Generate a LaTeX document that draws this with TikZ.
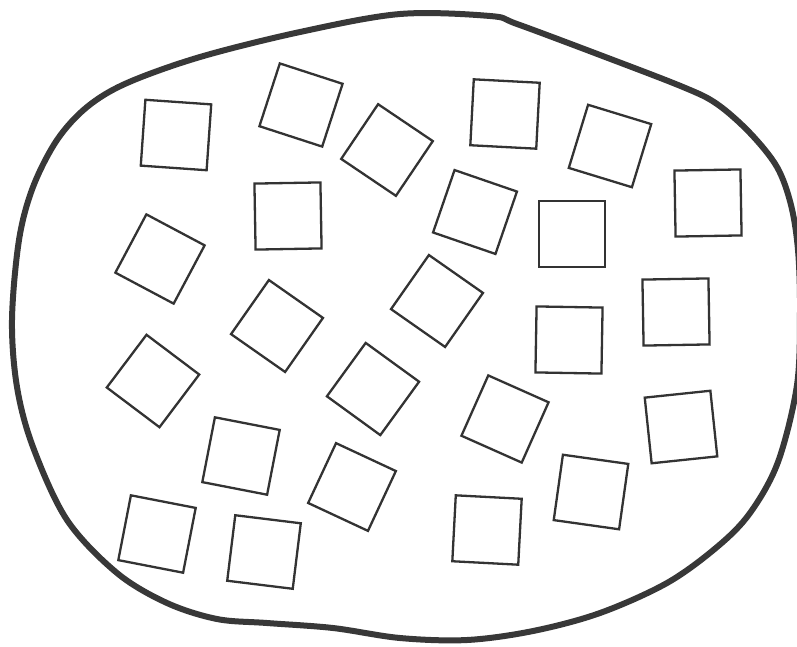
\documentclass[tikz,border=0pt]{standalone}
\usetikzlibrary{positioning}

\tikzset{
  tile/.style={draw=black!80, line width=2.3pt, minimum size=66pt, inner sep=0pt, outer sep=0pt},
  blob/.style={draw=black!78, line width=6pt}
}

\begin{document}
\begin{tikzpicture}[x=1pt, y=-1pt]
  \useasboundingbox (0,0) rectangle (797,646);
  \clip (0,0) rectangle (797,646);

  % Closed outline
  \draw[blob] plot[smooth cycle, tension=0.55] coordinates {
    (400,14) (490,16) (517,24) (600,55) (683,87) (717,104) (750,133)
    (777,167) (791,205) (798,250) (800,310) (797,385) (778,462) (750,513)
    (717,547) (667,583) (600,613) (533,631) (467,640) (400,638) (333,628)
    (267,623) (217,619) (167,603) (117,573) (67,520) (33,447) (17,387)
    (12,320) (19,240) (33,187) (57,140) (87,107) (127,83) (200,57) (300,32)};

  % Top row
  \node[tile, rotate=-4]  (s1)  at (176,135) {};
  \node[tile, rotate=-18] (s2)  at (301,105) {};
  \node[tile, rotate=-34] (s3)  at (387,150) {};
  \node[tile, rotate=-3]  (s4)  at (505,114) {};
  \node[tile, rotate=-17] (s5)  at (610,146) {};

  % Second row
  \node[tile, rotate=1]   (s6)  at (288,216) {};
  \node[tile, rotate=-19] (s7)  at (475,212) {};
  \node[tile]             (s8)  at (572,234) {};
  \node[tile, rotate=1]   (s9)  at (708,203) {};
  \node[tile, rotate=-28] (s10) at (160,259) {};

  % Middle
  \node[tile, rotate=-35] (s11) at (437,301) {};
  \node[tile, rotate=-35] (s12) at (277,326) {};
  \node[tile, rotate=-1]  (s13) at (569,340) {};
  \node[tile, rotate=1]   (s14) at (676,312) {};
  \node[tile, rotate=-37] (s15) at (153,381) {};
  \node[tile, rotate=-36] (s16) at (373,389) {};
  \node[tile, rotate=-24] (s17) at (505,419) {};
  \node[tile, rotate=6]   (s18) at (681,427) {};

  % Lower rows
  \node[tile, rotate=-11] (s19) at (241,456) {};
  \node[tile, rotate=-25] (s20) at (352,487) {};
  \node[tile, rotate=-8]  (s21) at (591,492) {};
  \node[tile, rotate=-11] (s22) at (157,534) {};
  \node[tile, rotate=-7]  (s23) at (264,552) {};
  \node[tile, rotate=-3]  (s24) at (487,530) {};
\end{tikzpicture}
\end{document}
